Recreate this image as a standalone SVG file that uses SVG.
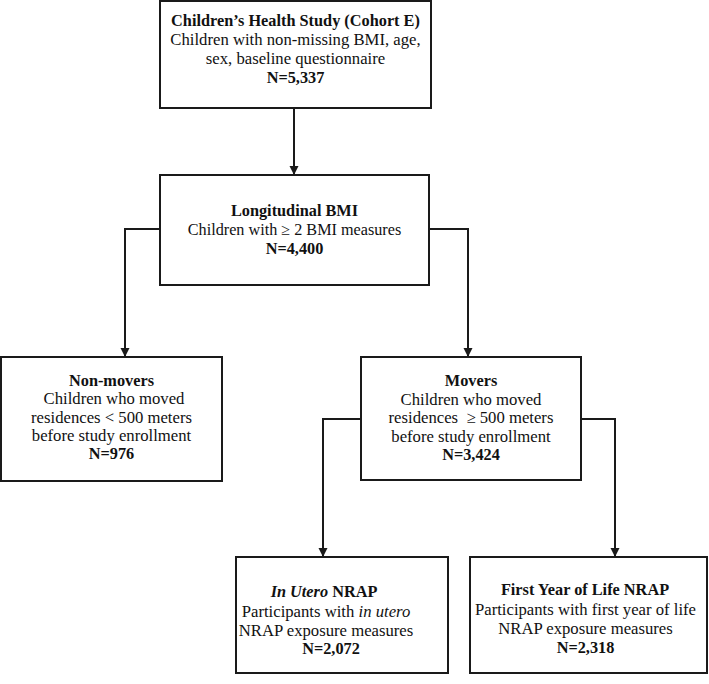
<svg xmlns="http://www.w3.org/2000/svg" width="709" height="684" viewBox="0 0 709 684">
<defs>
<style>
.box{fill:#fff;stroke:#1a1a1a;stroke-width:2}
.t{font-family:"Liberation Serif","Times New Roman",serif;font-size:16.7px;fill:#111;text-anchor:middle}
.b{font-weight:bold;font-size:16.3px}
.i{font-style:italic}
.c{fill:none;stroke:#1a1a1a;stroke-width:2}
</style>
<marker id="ah" markerWidth="10" markerHeight="10" refX="9" refY="5" orient="auto" markerUnits="userSpaceOnUse">
<path d="M0,0.5 L9,5 L0,9.5 Z" fill="#1a1a1a"/>
</marker>
</defs>
<rect width="709" height="684" fill="#fff"/>
<g id="connectors">
<path class="c" d="M294,108 V175" marker-end="url(#ah)"/>
<path class="c" d="M160,229 H125 V357" marker-end="url(#ah)"/>
<path class="c" d="M429,229 H468 V357" marker-end="url(#ah)"/>
<path class="c" d="M361,419 H323 V557" marker-end="url(#ah)"/>
<path class="c" d="M581,419 H615 V557" marker-end="url(#ah)"/>
</g>
<g id="cohort">
<rect class="box" x="160" y="1" width="271" height="107"/>
<text class="t b" x="295.5" y="26">Children’s Health Study (Cohort E)</text>
<text class="t" x="295.5" y="45">Children with non-missing BMI, age,</text>
<text class="t" x="295.5" y="64">sex, baseline questionnaire</text>
<text class="t b" x="295.5" y="83">N=5,337</text>
</g>
<g id="longitudinal">
<rect class="box" x="160" y="175" width="269" height="110"/>
<text class="t b" x="294.5" y="216">Longitudinal BMI</text>
<text class="t" x="294.5" y="235" style="font-size:16.2px">Children with ≥ 2 BMI measures</text>
<text class="t b" x="294.5" y="254">N=4,400</text>
</g>
<g id="nonmovers">
<rect class="box" x="1" y="357" width="221" height="124"/>
<text class="t b" x="111.5" y="386">Non-movers</text>
<text class="t" x="114" y="404">Children who moved</text>
<text class="t" x="111.5" y="423">residences &lt; 500 meters</text>
<text class="t" x="111.5" y="441">before study enrollment</text>
<text class="t b" x="111.5" y="459">N=976</text>
</g>
<g id="movers">
<rect class="box" x="361" y="357" width="220" height="123"/>
<text class="t b" x="471" y="386">Movers</text>
<text class="t" x="471" y="405">Children who moved</text>
<text class="t" x="471" y="423" xml:space="preserve">residences  ≥ 500 meters</text>
<text class="t" x="471" y="442">before study enrollment</text>
<text class="t b" x="471" y="460">N=3,424</text>
</g>
<g id="inutero">
<rect class="box" x="236" y="557" width="212" height="116"/>
<text class="t b" x="324" y="597"><tspan class="i">In Utero</tspan> NRAP</text>
<text class="t" x="326" y="617">Participants with <tspan class="i">in utero</tspan></text>
<text class="t" x="326" y="636">NRAP exposure measures</text>
<text class="t b" x="331" y="654">N=2,072</text>
</g>
<g id="firstyear">
<rect class="box" x="470" y="557" width="237" height="116"/>
<text class="t b" x="585" y="595">First Year of Life NRAP</text>
<text class="t" x="585.5" y="615">Participants with first year of life</text>
<text class="t" x="585.5" y="634">NRAP exposure measures</text>
<text class="t b" x="585.5" y="653">N=2,318</text>
</g>
</svg>
